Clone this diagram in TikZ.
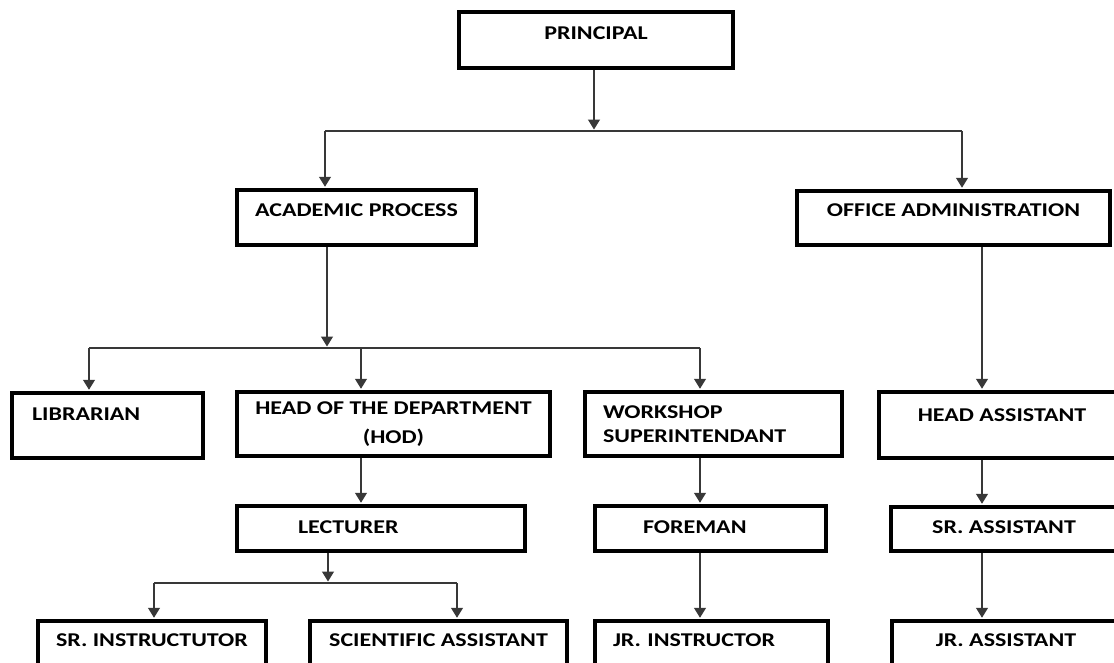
\documentclass[tikz,border=0pt]{standalone}
\usepackage{fontspec}
\setmainfont{Carlito}[FakeStretch=1.23]
\usepackage{tikz}
\usetikzlibrary{arrows.meta}
\tikzset{
  box/.style={draw, line width=3.5pt, inner sep=0pt, align=center,
    font=\bfseries\frenchspacing\fontsize{19.5}{24}\selectfont},
  lift/.style={text height=14pt, text depth=#1},
  lefttext/.style={align=left, inner xsep=#1},
  wire/.style={draw=black!78, line width=1.3pt},
  link/.style={wire, -{Triangle[length=10pt,width=12pt]}, shorten >=1.5pt}
}
\begin{document}
\begin{tikzpicture}[x=1pt, y=-1pt]
\path [use as bounding box] (0,0) rectangle (1114,662);
\clip (0,0) rectangle (1114,662);
\node [box, minimum width=274pt, minimum height=56pt, lift=15.7pt] (principal) at (596,40) {PRINCIPAL};
\node [box, minimum width=239pt, minimum height=55pt, lift=16.7pt] (academic) at (356.5,217.5) {ACADEMIC PROCESS};
\node [box, minimum width=313pt, minimum height=54pt, lift=17.7pt] (office) at (953.5,218) {OFFICE ADMINISTRATION};
\node [box, lefttext=20pt, text width=151pt, minimum height=65pt, lift=24.7pt] (librarian) at (107.5,425.5) {LIBRARIAN};
\node [box, minimum width=313pt, minimum height=64pt] (hod) at (393.5,424) {HEAD OF THE DEPARTMENT\\[5pt](HOD)};
\node [box, lefttext=18pt, text width=221pt, minimum height=64pt] (workshop) at (713.5,424) {WORKSHOP\\SUPERINTENDANT};
\node [box, minimum width=246pt, minimum height=66pt, lift=21.7pt] (headasst) at (1002,425) {HEAD ASSISTANT};
\node [box, lefttext=61pt, text width=166pt, minimum height=45pt, lift=4.7pt] (lecturer) at (381,528.5) {LECTURER};
\node [box, lefttext=48pt, text width=135pt, minimum height=45pt, lift=3.7pt] (foreman) at (710.5,528.5) {FOREMAN};
\node [box, minimum width=226pt, minimum height=44pt, lift=4.7pt] (srasst) at (1004,529) {SR. ASSISTANT};
\node [box, minimum width=228pt, minimum height=56pt, lift=19.7pt] (srinstr) at (152,649) {SR. INSTRUCTUTOR};
\node [box, minimum width=257pt, minimum height=56pt, lift=19.7pt] (sciasst) at (438.5,649) {SCIENTIFIC ASSISTANT};
\node [box, lefttext=18pt, text width=197pt, minimum height=56pt, lift=19.7pt] (jrinstr) at (711.5,649) {JR. INSTRUCTOR};
\node [box, minimum width=228pt, minimum height=56pt, lift=19.7pt] (jrasst) at (1006,649) {JR. ASSISTANT};

\coordinate (top) at (594,131);
\coordinate (topl) at (325,131);
\coordinate (topr) at (962,131);
\draw [link] (principal.south -| top) -- (top);
\draw [wire] (topl) -- (topr);
\draw [link] (topl) -- (topl |- academic.north);
\draw [link] (topr) -- (topr |- office.north);

\coordinate (mid) at (327,348);
\coordinate (midl) at (89,348);
\coordinate (midc) at (361,348);
\coordinate (midr) at (700,348);
\draw [link] (academic.south -| mid) -- (mid);
\draw [wire] (midl) -- (midr);
\draw [link] (midl) -- (midl |- librarian.north);
\draw [link] (midc) -- (midc |- hod.north);
\draw [link] (midr) -- (midr |- workshop.north);
\draw [link] (hod.south -| midc) -- (lecturer.north -| midc);
\draw [link] (workshop.south -| midr) -- (foreman.north -| midr);
\draw [link] (foreman.south -| midr) -- (jrinstr.north -| midr);

\coordinate (side) at (982,300);
\draw [link] (office.south -| side) -- (headasst.north -| side);
\draw [link] (headasst.south -| side) -- (srasst.north -| side);
\draw [link] (srasst.south -| side) -- (jrasst.north -| side);

\coordinate (low) at (328,583);
\coordinate (lowl) at (154,583);
\coordinate (lowr) at (457,583);
\draw [link] (lecturer.south -| low) -- (low);
\draw [wire] (lowl) -- (lowr);
\draw [link] (lowl) -- (lowl |- srinstr.north);
\draw [link] (lowr) -- (lowr |- sciasst.north);
\end{tikzpicture}
\end{document}
